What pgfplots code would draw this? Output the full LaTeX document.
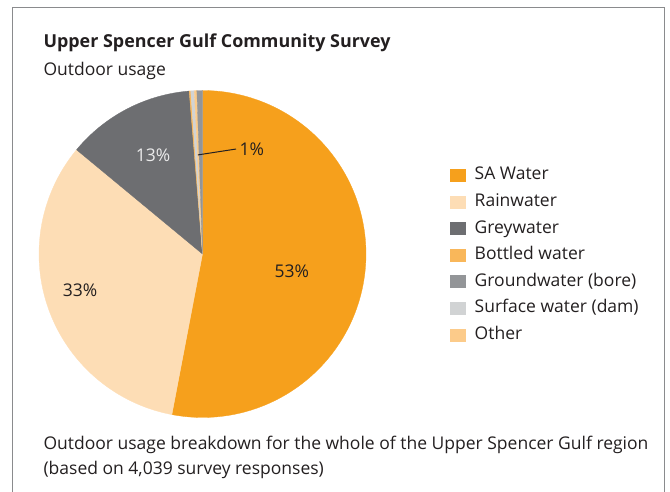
\documentclass[border=0pt]{standalone}
\usepackage{pgfplots}
\pgfplotsset{compat=1.18}
\usepackage{fontspec}
\setmainfont{Open Sans}

\definecolor{txt}{HTML}{231F20}
\definecolor{frame}{HTML}{8A8B8D}
\definecolor{sawater}{HTML}{F6A01C}
\definecolor{rain}{HTML}{FDDDB5}
\definecolor{grey}{HTML}{6D6E71}
\definecolor{bottled}{HTML}{F9B75A}
\definecolor{ground}{HTML}{939598}
\definecolor{surface}{HTML}{D1D3D4}
\definecolor{other}{HTML}{FCCB8A}

\newcommand\txtfont{\fontsize{17.5}{21}\selectfont}
\newcommand\ttlfont{\fontsize{17.9}{21}\selectfont\bfseries}

% one pie slice: #1 = share before it (%), #2 = its share (%), #3 = colour
\newcommand\slice[3]{%
  \addplot[fill=#3, draw=#3, line width=0.3pt, forget plot,
    domain=90-3.6*#1-3.6*#2:90-3.6*#1, samples=120, variable=\t]
    ({cos(\t)}, {sin(\t)}) -- (axis cs:0,0) -- cycle;
}

\begin{document}
\begin{tikzpicture}
\useasboundingbox (0pt,0pt) rectangle (670pt,492pt);
\draw[frame, line width=1pt] (12.7pt,-10pt) rectangle (664pt,484.7pt);

\begin{axis}[
  at={(202.5pt,238pt)}, anchor=center,
  scale only axis, width=327pt, height=327pt,
  xmin=-1, xmax=1, ymin=-1, ymax=1,
  hide axis, clip=false,
  legend image code/.code={\fill[#1, draw=none] (0pt,-6.5pt) rectangle (15.5pt,6.5pt);},
  legend cell align=left,
  legend style={at={(1.2575,0.765)}, anchor=north west,
    draw=none, fill=none, inner sep=0pt, outer sep=0pt,
    row sep=10.1pt, column sep=9pt, font=\txtfont, text=txt,
    nodes={inner sep=0pt, text height=12.5pt, text depth=4pt}},
]
  % shares in %, clockwise from the top
  \slice{0}{53.0}{sawater}
  \slice{53.0}{33.0}{rain}
  \slice{86.0}{12.7}{grey}
  \slice{98.7}{0.15}{bottled}
  \slice{98.85}{0.35}{surface}
  \slice{99.2}{0.25}{other}
  \slice{99.45}{0.55}{ground}

  \addlegendimage{fill=sawater}
  \addlegendimage{fill=rain}
  \addlegendimage{fill=grey}
  \addlegendimage{fill=bottled}
  \addlegendimage{fill=ground}
  \addlegendimage{fill=surface}
  \addlegendimage{fill=other}
  \legend{SA Water, Rainwater, Greywater, Bottled water,
    Groundwater (bore), Surface water (dam), Other}

  \node[font=\txtfont, text=txt] at (axis cs:0.547,-0.104) {53\%};
  \node[font=\txtfont, text=txt] at (axis cs:-0.749,-0.220) {33\%};
  \node[font=\txtfont, text=white!92!black] at (axis cs:-0.303,0.606) {13\%};
  \node[font=\txtfont, text=txt, anchor=west] at (axis cs:0.205,0.642) {1\%};
  \draw[txt, line width=1pt] (axis cs:-0.028,0.606) -- (axis cs:0.205,0.642);
\end{axis}

\node[anchor=base west, font=\ttlfont, text=txt] at (40pt,444pt)
  {Upper Spencer Gulf Community Survey};
\node[anchor=base west, font=\txtfont, text=txt] at (40pt,416pt)
  {Outdoor usage};
\node[anchor=base west, font=\txtfont, text=txt] at (40pt,42pt)
  {Outdoor usage breakdown for the whole of the Upper Spencer Gulf region};
\node[anchor=base west, font=\txtfont, text=txt] at (40pt,17pt)
  {(based on 4,039 survey responses)};
\end{tikzpicture}
\end{document}
